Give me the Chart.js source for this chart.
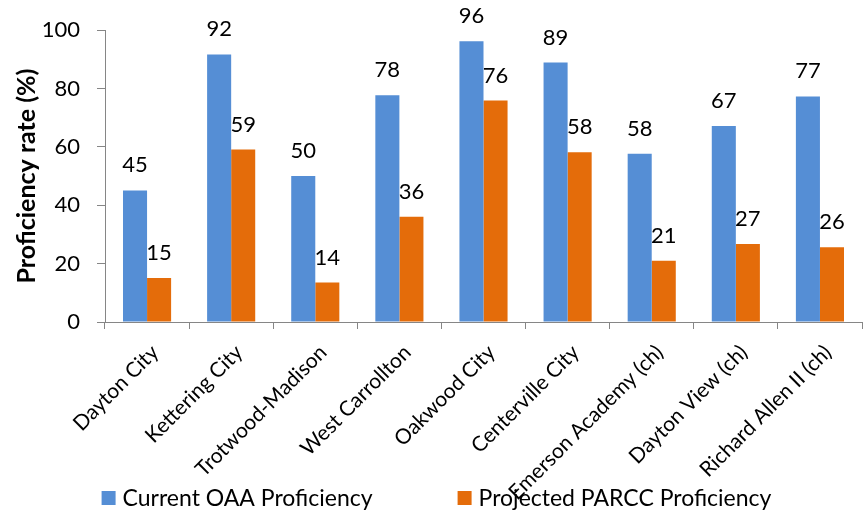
<!DOCTYPE html>
<html>
<head>
<meta charset="utf-8">
<script src="https://cdn.jsdelivr.net/npm/chart.js@4"></script>
<style>
  html, body { margin: 0; padding: 0; background: #fff; }
  #wrap { width: 863px; height: 512px; }
</style>
</head>
<body>
<div id="wrap"><canvas id="chart"></canvas></div>
<script>
const districts = ['Dayton City', 'Kettering City', 'Trotwood-Madison', 'West Carrollton', 'Oakwood City',
  'Centerville City', 'Emerson Academy (ch)', 'Dayton View (ch)', 'Richard Allen II (ch)']
const currentOAA = [45.1, 91.7, 50.0, 77.7, 96.2, 88.9, 57.7, 67.2, 77.3]
const projectedPARCC = [15.1, 59.1, 13.5, 36.1, 75.9, 58.2, 21.0, 26.7, 25.6]
const yTicks = [0, 20, 40, 60, 80, 100]

const FONT = 'Lato'
const AXIS_GRAY = '#868686'

// number above every bar
const valueLabels = {
  id: 'valueLabels',
  afterDatasetsDraw(chart) {
    const ctx = chart.ctx
    ctx.save()
    ctx.font = '22px ' + FONT
    ctx.fillStyle = '#000'
    ctx.textAlign = 'center'
    ctx.textBaseline = 'alphabetic'
    chart.data.datasets.forEach((ds, i) => {
      chart.getDatasetMeta(i).data.forEach((bar, j) => {
        ctx.fillText(Math.round(ds.data[j]), bar.x, bar.y - 18)
      })
    })
    ctx.restore()
  }
}

// legend with wide gap between the two entries
const bottomLegend = {
  id: 'bottomLegend',
  afterDraw(chart) {
    const ctx = chart.ctx
    const box = 14, gap = 7, spacing = 85
    ctx.save()
    ctx.font = '23px ' + FONT
    ctx.textBaseline = 'middle'
    ctx.textAlign = 'left'
    const items = chart.data.datasets.map(ds => ({
      text: ds.label, color: ds.backgroundColor, w: box + gap + ctx.measureText(ds.label).width
    }))
    const total = items.reduce((s, it) => s + it.w, 0) + spacing * (items.length - 1)
    let x = (chart.width - total) / 2 + 5
    const y = chart.height - 14
    items.forEach(it => {
      ctx.fillStyle = it.color
      ctx.fillRect(x, y - box / 2, box, box)
      ctx.fillStyle = '#000'
      ctx.fillText(it.text, x + box + gap, y + 1)
      x += it.w + spacing
    })
    ctx.restore()
  }
}

new Chart(document.getElementById('chart'), {
  type: 'bar',
  data: {
    labels: districts,
    datasets: [{
      label: 'Current OAA Proficiency',
      data: currentOAA,
      backgroundColor: '#558ED5',
      categoryPercentage: 0.572,
      barPercentage: 1
    },
    {
      label: 'Projected PARCC Proficiency',
      data: projectedPARCC,
      backgroundColor: '#E46C0A',
      categoryPercentage: 0.572,
      barPercentage: 1
    }]
  },
  options: {
    responsive: true,
    maintainAspectRatio: false,
    animation: false,
    layout: {
      padding: { top: 30, left: 0, right: 1, bottom: 0 }
    },
    plugins: {
      legend: { display: false },
      tooltip: { enabled: false }
    },
    scales: {
      x: {
        afterFit: (scale) => { scale.height = 190 },
        grid: {
          offset: true,
          drawOnChartArea: false,
          tickLength: 7,
          color: AXIS_GRAY
        },
        border: { color: AXIS_GRAY, width: 1 },
        ticks: {
          autoSkip: false,
          minRotation: 45,
          maxRotation: 45,
          padding: 11,
          labelOffset: 8,
          color: '#000',
          font: { family: FONT, size: 21 }
        }
      },
      y: {
        min: 0,
        max: 100,
        afterFit: (scale) => { scale.width = 105 },
        afterBuildTicks: (scale) => { scale.ticks = yTicks.map(v => ({ value: v })) },
        grid: {
          drawOnChartArea: false,
          tickLength: 8,
          color: AXIS_GRAY
        },
        border: { color: AXIS_GRAY, width: 1 },
        ticks: {
          padding: 17,
          color: '#000',
          font: { family: FONT, size: 22 }
        },
        title: {
          display: true,
          text: 'Proficiency rate (%)',
          color: '#000',
          padding: { top: 12, bottom: 0 },
          font: { family: FONT, size: 25, weight: 'bold' }
        }
      }
    }
  },
  plugins: [valueLabels, bottomLegend]
})
</script>
</body>
</html>
